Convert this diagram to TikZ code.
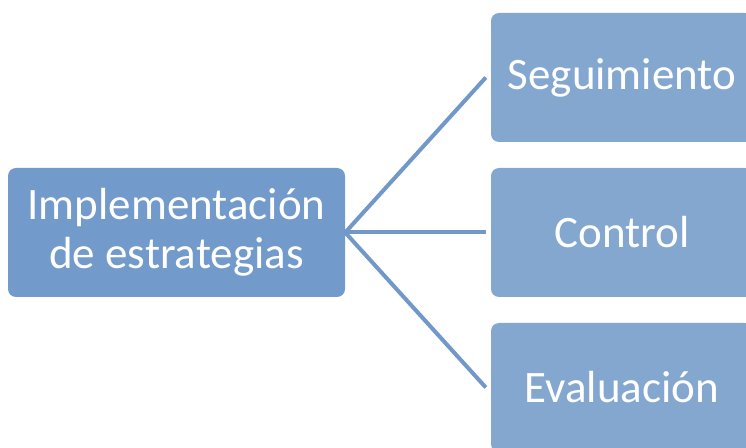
\documentclass[tikz,border=0pt]{standalone}
\usepackage{fontspec}
\setmainfont{Carlito}
\begin{document}
\begin{tikzpicture}[x=1pt, y=1pt,
        mainbox/.style={rectangle, rounded corners=8pt, fill=blue1, minimum width=337pt, minimum height=129pt, inner sep=0pt, text=white, align=center, font=\fontsize{45}{49}\selectfont},
        taskbox/.style={rectangle, rounded corners=8pt, fill=blue2, minimum width=262pt, minimum height=129pt, inner sep=0pt, text=white, align=center, font=\fontsize{45}{49}\selectfont},
        link/.style={draw=blue3, line width=4pt},
    ]
        \definecolor{blue1}{HTML}{729ACB}
        \definecolor{blue2}{HTML}{84A7D0}
        \definecolor{blue3}{HTML}{7297C9}
        \useasboundingbox (0,0) rectangle (746,447);
        \clip (0,0) rectangle (746,447);

        %Nodes
        \node[mainbox] (impl) at (176.5,214.5) {Implementación\\de estrategias};

        \node[taskbox] (seg) at (622,369.5) {Seguimiento};
        \node[taskbox] (ctrl) at (622,214.5) {Control};
        \node[taskbox] (eval) at (622,59.5) {Evaluación};

        %Lines
        \draw[link] (impl.east) -- ([xshift=-5pt]seg.west);
        \draw[link] (impl.east) -- ([xshift=-5pt]ctrl.west);
        \draw[link] (impl.east) -- ([xshift=-5pt]eval.west);
    \end{tikzpicture}
\end{document}
